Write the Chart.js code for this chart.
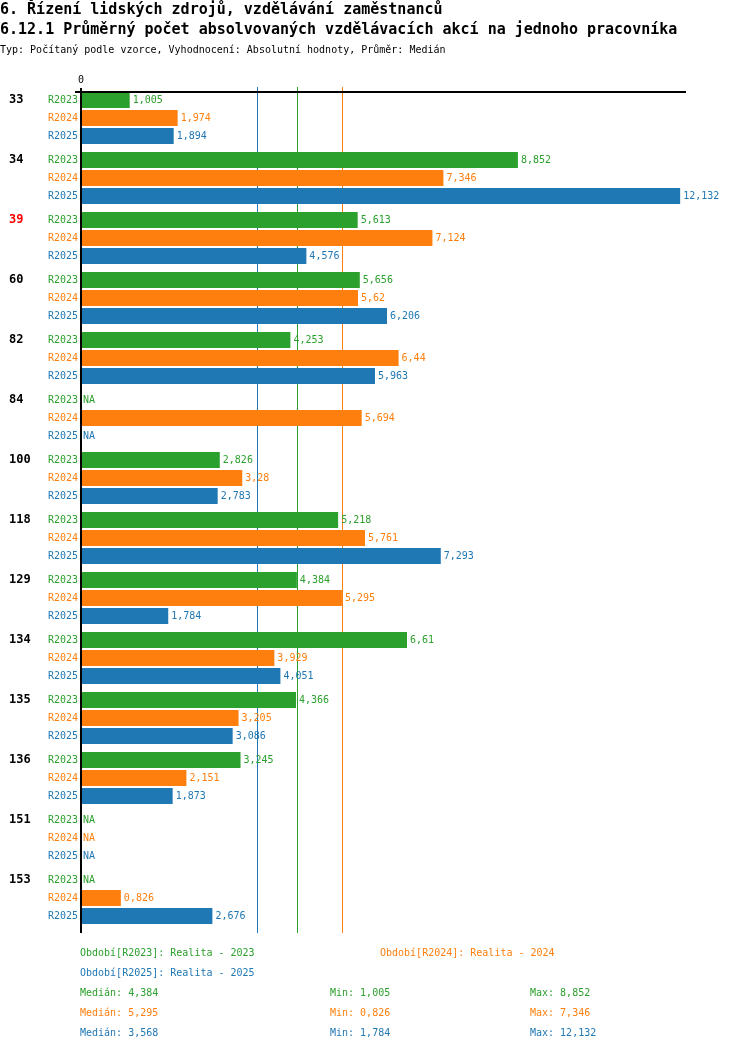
<!DOCTYPE html>
<html lang="cs">
<head>
<meta charset="utf-8">
<title>6.12.1 Průměrný počet absolvovaných vzdělávacích akcí na jednoho pracovníka</title>
<script src="https://cdn.jsdelivr.net/npm/chart.js@4/dist/chart.umd.min.js"></script>
<style>
  body { margin: 0; background: #fff; font-family: 'DejaVu Sans Mono', monospace; }
  #wrap { position: relative; width: 750px; height: 1052px; overflow: hidden; }
  #chart { position: absolute; left: 0; top: 0; }
  .t { position: absolute; white-space: pre; line-height: 1; }
  .h1 { font-size: 15px; font-weight: bold; }
  .sub { font-size: 10px; }
  .f { font-size: 10px; }
</style>
</head>
<body>
<div id="wrap">
  <canvas id="chart" width="750" height="1052"></canvas>
  <div class="t h1" style="left:0;top:2px">6. Řízení lidských zdrojů, vzdělávání zaměstnanců</div>
  <div class="t h1" style="left:0;top:22px">6.12.1 Průměrný počet absolvovaných vzdělávacích akcí na jednoho pracovníka</div>
  <div class="t sub" style="left:0;top:45px">Typ: Počítaný podle vzorce, Vyhodnocení: Absolutní hodnoty, Průměr: Medián</div>
  <div id="footer"></div>
</div>
<script>
// group labels (one per unit) and the three periods
const groups = ['33', '34', '39', '60', '82', '84', '100', '118', '129', '134', '135', '136', '151', '153'];
const highlighted = ['39'];
const periods = ['R2023', 'R2024', 'R2025'];
const periodNames = ['Realita - 2023', 'Realita - 2024', 'Realita - 2025'];
const colors = ['#2ca02c', '#ff7f0e', '#1f77b4'];

// values per period, null = NA
const r2023 = [1.005, 8.852, 5.613, 5.656, 4.253, null, 2.826, 5.218, 4.384, 6.61, 4.366, 3.245, null, null];
const r2024 = [1.974, 7.346, 7.124, 5.62, 6.44, 5.694, 3.28, 5.761, 5.295, 3.929, 3.205, 2.151, null, 0.826];
const r2025 = [1.894, 12.132, 4.576, 6.206, 5.963, null, 2.783, 7.293, 1.784, 4.051, 3.086, 1.873, null, 2.676];

// summary values shown under the chart
const medians = [4.384, 5.295, 3.568];
const mins = [1.005, 0.826, 1.784];
const maxs = [8.852, 7.346, 12.132];

const fmt = v => String(v).replace('.', ',');
const FONT = "'DejaVu Sans Mono', monospace";

// footer text
const footer = document.getElementById('footer');
function addText(txt, x, y, color) {
  const d = document.createElement('div');
  d.className = 't f';
  d.style.left = x + 'px';
  d.style.top = y + 'px';
  d.style.color = color;
  d.textContent = txt;
  footer.appendChild(d);
}
addText(`Období[${periods[0]}]: ${periodNames[0]}`, 80, 948, colors[0]);
addText(`Období[${periods[1]}]: ${periodNames[1]}`, 380, 948, colors[1]);
addText(`Období[${periods[2]}]: ${periodNames[2]}`, 80, 968, colors[2]);
periods.forEach((p, i) => {
  const y = 988 + i * 20;
  addText(`Medián: ${fmt(medians[i])}`, 80, y, colors[i]);
  addText(`Min: ${fmt(mins[i])}`, 330, y, colors[i]);
  addText(`Max: ${fmt(maxs[i])}`, 530, y, colors[i]);
});

// median lines + axis lines behind the bars
const backdrop = {
  id: 'backdrop',
  beforeDatasetsDraw(chart) {
    const { ctx, chartArea, scales: { x } } = chart;
    ctx.save();
    ctx.lineWidth = 1;
    medians.forEach((m, i) => {
      const px = Math.round(x.getPixelForValue(m)) + 0.5;
      ctx.strokeStyle = colors[i];
      ctx.beginPath();
      ctx.moveTo(px, 87);
      ctx.lineTo(px, chartArea.bottom + 5);
      ctx.stroke();
    });
    ctx.restore();
  }
};

// row labels, value labels, group labels, axes
const labels = {
  id: 'labels',
  afterDatasetsDraw(chart) {
    const { ctx, chartArea, scales: { x } } = chart;
    const x0 = x.getPixelForValue(0);
    ctx.save();
    ctx.textBaseline = 'middle';

    chart.data.datasets.forEach((ds, di) => {
      const meta = chart.getDatasetMeta(di);
      meta.data.forEach((el, j) => {
        const y = el.y;
        ctx.font = `10px ${FONT}`;
        ctx.fillStyle = colors[di];
        ctx.textAlign = 'right';
        ctx.fillText(periods[di], x0 - 2, y);
        ctx.textAlign = 'left';
        const v = ds.data[j];
        if (v == null) {
          ctx.fillText('NA', x0 + 3, y);
        } else {
          ctx.fillText(fmt(v), x.getPixelForValue(v) + 3, y);
        }
        if (di === 0) {
          ctx.font = `bold 12px ${FONT}`;
          ctx.fillStyle = highlighted.includes(groups[j]) ? '#ff0000' : '#000';
          ctx.fillText(groups[j], 9, y);
        }
      });
    });

    // axes
    ctx.strokeStyle = '#000';
    ctx.lineWidth = 2;
    ctx.beginPath();
    ctx.moveTo(75, 92);
    ctx.lineTo(chartArea.right, 92);
    ctx.moveTo(x0 + 1, 88);
    ctx.lineTo(x0 + 1, chartArea.bottom + 5);
    ctx.stroke();

    ctx.font = `10px ${FONT}`;
    ctx.fillStyle = '#000';
    ctx.textAlign = 'center';
    ctx.fillText('0', x0 + 1, 80);
    ctx.restore();
  }
};

new Chart(document.getElementById('chart').getContext('2d'), {
  type: 'bar',
  data: {
    labels: groups,
    datasets: periods.map((p, i) => ({
      label: p,
      data: [r2023, r2024, r2025][i],
      backgroundColor: colors[i],
      borderWidth: 0,
      categoryPercentage: 0.9,
      barPercentage: 16 / 18
    }))
  },
  options: {
    indexAxis: 'y',
    responsive: false,
    devicePixelRatio: 1,
    animation: false,
    events: [],
    layout: { padding: { left: 80, right: 64, top: 88, bottom: 124 } },
    plugins: { legend: { display: false }, tooltip: { enabled: false } },
    scales: {
      x: { type: 'linear', display: false, min: 0, max: 12.25 },
      y: { display: false, offset: true }
    }
  },
  plugins: [backdrop, labels]
});
</script>
</body>
</html>
